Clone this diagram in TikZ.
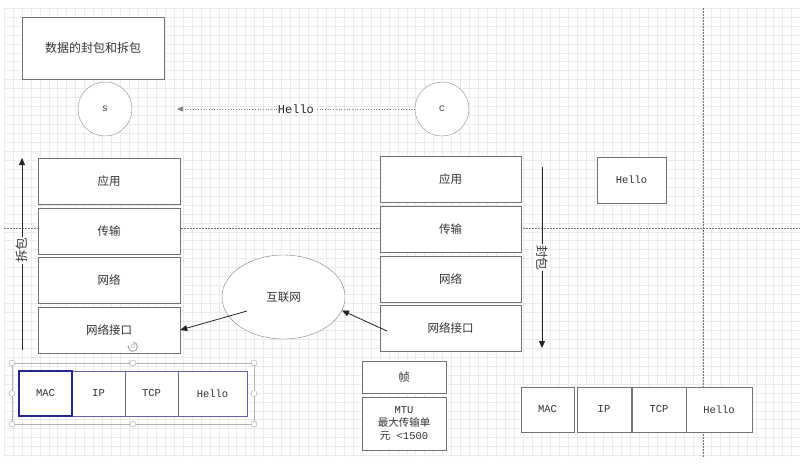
\documentclass[tikz,border=0pt]{standalone}
\usepackage{fontspec}
\setmainfont{Liberation Mono}
\newfontfamily\cjk{Noto Sans CJK SC}
\usetikzlibrary{arrows.meta,shapes.geometric,positioning}

\begin{document}
\begin{tikzpicture}[x=1pt, y=-1pt,
    gridline/.style={draw=black!8, line width=0.5pt},
    pagebreak/.style={draw=black!55, dashed, line width=0.5pt, dash pattern=on 2pt off 1pt},
    layer/.style={draw=black!55, fill=white, minimum width=142pt, minimum height=46pt, align=center, font=\cjk\fontsize{11.5}{14}\selectfont, text=black!80},
    peer/.style={draw=black!45, circle, fill=white, minimum size=54pt, inner sep=0pt, font=\fontsize{10.5}{12}\selectfont, text=black!70},
    field/.style={draw=black!55, fill=white, minimum height=45pt, inner sep=0pt, font=\fontsize{10.5}{12}\selectfont, text=black!80},
    selfield/.style={field, draw=blue!45!black!60!white, line width=1pt},
    handle/.style={circle, draw=black!35, fill=white, minimum size=6pt, inner sep=0pt},
    arr/.style={-{Triangle[length=7pt, width=6pt]}, draw=black!85, line width=0.8pt}
]
\useasboundingbox (0,0) rectangle (800,464);
\fill[white] (0,0) rectangle (800,464);
\foreach \i in {0,...,89} \draw[gridline] ({4+8.95*\i},8) -- ({4+8.95*\i},457);
\foreach \j in {0,...,50} \draw[gridline] (4,{8+8.95*\j}) -- (800,{8+8.95*\j});
\draw[pagebreak] (4,228) -- (800,228);
\draw[pagebreak] (703,8) -- (703,457);

\node[layer, minimum height=62pt, font=\cjk\fontsize{12}{14}\selectfont] (title) at (93,48) {数据的封包和拆包};
\node[peer] (s) at (105,109) {s};
\node[peer] (c) at (442,109) {c};
\coordinate (sIn) at (177,109);
\draw[-{Triangle[length=6pt, width=5pt]}, draw=black!50, dotted, line width=0.7pt] (c) -- node[fill=white, inner sep=1pt, font=\fontsize{12}{14}\selectfont, text=black!85] {Hello} (sIn);

\node[layer] (sApp) at (109,181) {应用};
\node[layer] (sTrans) at (109,231) {传输};
\node[layer] (sNet) at (109,280) {网络};
\node[layer] (sLink) at (109,330) {网络接口};

\node[layer, minimum width=141pt] (cApp) at (450.5,179.5) {应用};
\node[layer, minimum width=141pt] (cTrans) at (450.5,229.5) {传输};
\node[layer, minimum width=141pt] (cNet) at (450.5,279) {网络};
\node[layer, minimum width=141pt] (cLink) at (450.5,328.5) {网络接口};

\node[layer, minimum width=69pt, font=\fontsize{10.5}{12}\selectfont] (data) at (631.5,180) {Hello};

\node[ellipse, draw=black!50, fill=white, minimum width=123pt, minimum height=84pt, font=\cjk\fontsize{11.5}{14}\selectfont, text=black!80] (net) at (283.5,297) {互联网};
\coordinate (netOut) at (247,311);
\coordinate (cOut) at (387,331);
\draw[arr] (netOut) -- (sLink.east);
\draw[arr] (cOut) -- (net.-13);

\coordinate (upFrom) at (22,350);
\coordinate (upTo) at (22,158);
\draw[arr] (upFrom) -- node[fill=white, rotate=90, inner sep=1pt, font=\cjk\fontsize{12.5}{14}\selectfont, text=black!80, pos=0.52] {拆包} (upTo);
\coordinate (downFrom) at (542,167);
\coordinate (downTo) at (542,348);
\draw[arr] (downFrom) -- node[fill=white, rotate=-90, inner sep=1pt, font=\cjk\fontsize{12.5}{14}\selectfont, text=black!80, pos=0.5] {封包} (downTo);

\node[layer, minimum width=84pt, minimum height=32pt] (frame) at (404,377) {帧};
\node[layer, minimum width=84pt, minimum height=53pt, inner sep=1pt, font=\fontsize{10.5}{13}\selectfont] (mtu) at (404,423.5) {MTU\\{\cjk 最大传输单}\\{\cjk 元} <1500};

\draw[draw=black!30, line width=0.6pt] (12,363) rectangle (254,424);
\node[selfield, minimum width=53pt] (rIP) at (98.5,393.5) {IP};
\node[selfield, minimum width=53pt] (rTCP) at (151.5,393.5) {TCP};
\node[selfield, minimum width=69pt] (rData) at (212.5,393.5) {Hello};
\node[field, minimum width=53pt, draw=blue!50!black!85!white, line width=1.5pt] (rMAC) at (45.5,393.5) {MAC};
\foreach \hx in {12,133,254} {
  \node[handle] (h\hx a) at (\hx,363) {};
  \node[handle] (h\hx b) at (\hx,424) {};
}
\node[handle] (hl) at (12,393.5) {};
\node[handle] (hr) at (254,393.5) {};
\node[handle, minimum size=4pt] (hv) at (133,346) {};
\draw[draw=black!35, line width=1pt, -{Stealth[length=2pt]}] (hv.north) ++(0,-1.5) arc[start angle=90, end angle=-200, radius=4.5pt];

\node[field, minimum width=53pt] (tMAC) at (547.5,409.5) {MAC};
\node[field, minimum width=54pt] (tIP) at (604,409.5) {IP};
\node[field, minimum width=54pt] (tTCP) at (659,409.5) {TCP};
\node[field, minimum width=66pt] (tData) at (719,409.5) {Hello};
\end{tikzpicture}
\end{document}
